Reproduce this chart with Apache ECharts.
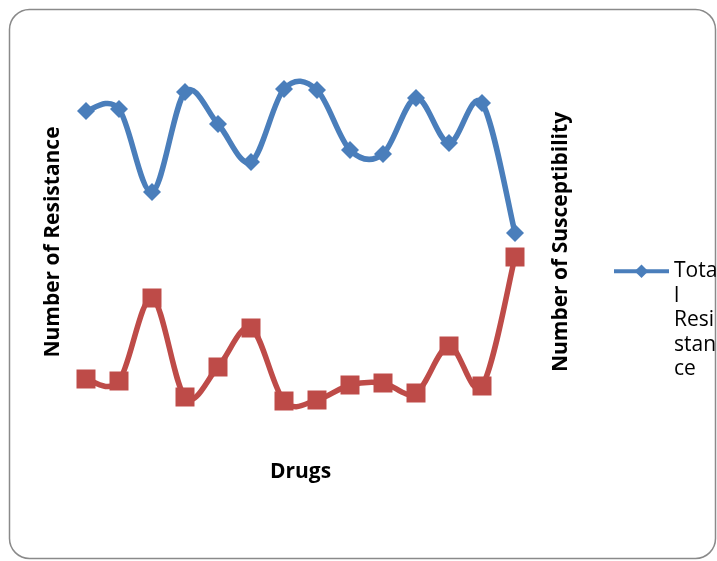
<!DOCTYPE html>
<html>
<head>
<meta charset="utf-8">
<script src="https://cdn.jsdelivr.net/npm/echarts@6/dist/echarts.min.js"></script>
<style>
  html, body { margin: 0; padding: 0; background: #fff; }
  #chart { width: 717px; height: 561px; }
</style>
</head>
<body>
<div id="chart"></div>
<script>
// Fourteen drugs tested; the category names are not printed on the axis
const drugs = ['D1', 'D2', 'D3', 'D4', 'D5', 'D6', 'D7', 'D8', 'D9', 'D10', 'D11', 'D12', 'D13', 'D14'];

// Isolate counts per drug
const totalResistance = [34.9, 35.1, 26.8, 36.8, 33.6, 29.8, 37.1, 37.0, 31.0, 30.6, 36.2, 31.7, 35.7, 22.7];
const totalSusceptibility = [8.1, 7.9, 16.2, 6.3, 9.3, 13.2, 5.9, 6.0, 7.5, 7.7, 6.7, 11.4, 7.4, 20.3];

const FONT = '"Open Sans", "Liberation Sans", sans-serif';
const BLUE = '#4a7ebb';
const RED = '#be4b48';
const LINE_W = 5.5;

const chart = echarts.init(document.getElementById('chart'), null, { renderer: 'canvas' });

const hiddenAxis = {
  axisLine: { show: false },
  axisTick: { show: false },
  axisLabel: { show: false },
  splitLine: { show: false }
};

// Cardinal-spline segment between point i and i+1 (control arms = 1/6 of the
// neighbour chord), projected through the chart's own axes.
function splineSegment(values, color) {
  return function (params, api) {
    const i = params.dataIndex;
    const n = values.length;
    if (i >= n - 1) return null;
    const clamp = k => Math.min(Math.max(k, 0), n - 1);
    const pt = k => api.coord([clamp(k), values[clamp(k)]]);
    const p0 = pt(i - 1), p1 = pt(i), p2 = pt(i + 1), p3 = pt(i + 2);
    return {
      type: 'bezierCurve',
      shape: {
        x1: p1[0], y1: p1[1],
        x2: p2[0], y2: p2[1],
        cpx1: p1[0] + (p2[0] - p0[0]) / 6,
        cpy1: p1[1] + (p2[1] - p0[1]) / 6,
        cpx2: p2[0] - (p3[0] - p1[0]) / 6,
        cpy2: p2[1] - (p3[1] - p1[1]) / 6
      },
      style: { stroke: color, lineWidth: LINE_W, fill: null, lineCap: 'round' }
    };
  };
}

chart.setOption({
  animation: false,
  backgroundColor: '#fff',
  graphic: [{
    type: 'rect',
    silent: true,
    shape: { x: 9.5, y: 9.5, width: 706, height: 549, r: 20 },
    style: { fill: 'none', stroke: '#8a8a8a', lineWidth: 1.5 }
  }],
  grid: { left: 69.5, right: 185.5, top: 24, bottom: 101 },
  legend: {
    data: ['Total Resistance'],
    left: 612,
    top: 161,
    padding: 0,
    orient: 'vertical',
    itemWidth: 55,
    itemHeight: 17,
    itemGap: 0,
    lineStyle: { width: 4, opacity: 1 },
    // four leading blank lines keep the first text line level with the icon
    formatter: () => '\n\n\n\nTota\nl\nResi\nstan\nce',
    textStyle: {
      fontFamily: FONT,
      fontSize: 21,
      color: '#000',
      lineHeight: 24.5
    }
  },
  xAxis: {
    type: 'category',
    data: drugs,
    boundaryGap: true,
    name: 'Drugs',
    nameLocation: 'middle',
    nameGap: 2,
    nameTextStyle: { fontFamily: FONT, fontSize: 21, fontWeight: 'bold', color: '#000' },
    ...hiddenAxis
  },
  yAxis: [{
    type: 'value',
    min: 0,
    max: 43.6,
    name: 'Number of Resistance',
    nameLocation: 'middle',
    nameRotate: 90,
    nameGap: 5.5,
    nameTextStyle: { fontFamily: FONT, fontSize: 21, fontWeight: 'bold', color: '#000' },
    ...hiddenAxis
  }, {
    type: 'value',
    min: 0,
    max: 43.6,
    position: 'right',
    name: 'Number of Susceptibility',
    nameLocation: 'middle',
    nameRotate: 90,
    nameGap: 19.5,
    nameTextStyle: { fontFamily: FONT, fontSize: 21, fontWeight: 'bold', color: '#000' },
    ...hiddenAxis
  }],
  series: [{
    name: 'Resistance curve',
    type: 'custom',
    yAxisIndex: 0,
    z: 1,
    data: totalResistance.map((v, i) => [i, v]),
    encode: { x: 0, y: 1 },
    renderItem: splineSegment(totalResistance, BLUE)
  }, {
    name: 'Susceptibility curve',
    type: 'custom',
    yAxisIndex: 1,
    z: 1,
    data: totalSusceptibility.map((v, i) => [i, v]),
    encode: { x: 0, y: 1 },
    renderItem: splineSegment(totalSusceptibility, RED)
  }, {
    name: 'Total Resistance',
    type: 'line',
    data: totalResistance,
    yAxisIndex: 0,
    z: 2,
    symbol: 'diamond',
    symbolSize: 18,
    lineStyle: { color: BLUE, width: LINE_W, opacity: 0 },
    itemStyle: { color: BLUE }
  }, {
    name: 'Total Susceptibility',
    type: 'line',
    data: totalSusceptibility,
    yAxisIndex: 1,
    z: 2,
    symbol: 'rect',
    symbolSize: 19,
    lineStyle: { color: RED, width: LINE_W, opacity: 0 },
    itemStyle: { color: RED }
  }]
});
</script>
</body>
</html>
